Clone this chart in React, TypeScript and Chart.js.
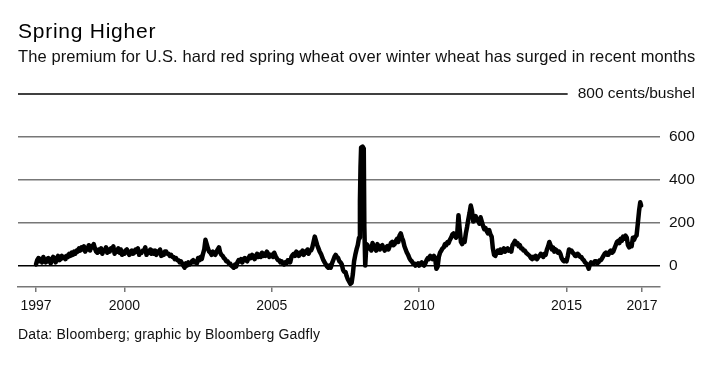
import React, { useEffect, useRef } from 'react';
import { Chart, registerables } from 'chart.js';

Chart.register(...registerables);

const FONT = '"Liberation Sans", Arial, Helvetica, sans-serif';

const titleText = 'Spring Higher';
const subtitleText = 'The premium for U.S. hard red spring wheat over winter wheat has surged in recent months';
const sourceText = 'Data: Bloomberg; graphic by Bloomberg Gadfly';

const yearTicks = [1997, 2000, 2005, 2010, 2015, 2017.56];
const yearTickLabels = ['1997', '2000', '2005', '2010', '2015', '2017'];
const yTicks = [0, 200, 400, 600, 800];
const unitLabel = 'cents/bushel';

// Semi-monthly premium readings (cents/bushel), two per month
const premium1997to2001 = [
  5, 25, 35, 20, 30, 15, 40, 25, 15, 30, 35, 20, 10, 30, 40, 25, 15, 35, 45, 25, 30, 45, 35, 40,
  30, 45, 40, 55, 45, 60, 50, 65, 55, 70, 65, 80, 70, 85, 75, 90, 65, 80, 75, 95, 70, 90, 85, 100,
  80, 65, 60, 75, 65, 80, 55, 70, 70, 85, 60, 75, 65, 80, 75, 90, 55, 70, 65, 80, 60, 75, 50, 65,
  55, 70, 75, 60, 50, 65, 70, 55, 60, 75, 65, 80, 50, 65, 60, 70, 70, 85, 50, 65, 60, 75, 55, 70,
  55, 70, 50, 65, 60, 75, 45, 60, 50, 65, 65, 55, 55, 45, 50, 40, 40, 30, 35, 25, 25, 15, 20, 10,
];

const premium2002to2006 = [
  0, -10, 10, 0, 15, 5, 10, 20, 25, 15, 20, 10, 35, 25, 40, 30, 55, 75, 120, 100, 80, 65, 60, 50,
  65, 55, 50, 65, 75, 85, 60, 50, 45, 35, 30, 20, 20, 10, 10, 0, -5, -10, 5, -5, 15, 25, 20, 30,
  15, 30, 35, 25, 20, 35, 45, 35, 50, 40, 30, 45, 55, 40, 50, 40, 60, 45, 55, 45, 65, 55, 40, 50,
  50, 40, 60, 45, 35, 25, 25, 15, 20, 10, 5, 15, 10, 25, 25, 15, 40, 50, 55, 45, 65, 55, 45, 60,
  55, 70, 50, 65, 60, 75, 55, 70, 70, 85, 110, 135, 115, 95, 80, 65, 55, 40, 25, 15, 5, -5, -10, 0,
];

// Jan 2007 .. start of Dec 2007
const premium2007 = [
  -10, 10, 25, 40, 50, 40, 35, 20, 15, 5, -20, -30, -30, -50, -65, -75, -85, -80, -40, 20, 50, 75, 95,
];

// Early-2008 spike
const spikeDates = [2007.96, 2007.99, 2008.01, 2008.03, 2008.08, 2008.12, 2008.14, 2008.17, 2008.21];
const spikeValues = [130, 300, 460, 550, 555, 545, 180, 0, 100];

// Apr 2008 .. Dec 2012, semi-monthly
const premium2008to2012 = [
  95, 80, 85, 70, 105, 90, 80, 70, 100, 85, 75, 90, 95, 80, 70, 85, 90, 75,
  90, 105, 110, 95, 100, 115, 125, 110, 140, 150, 130, 115, 90, 75, 60, 50, 35, 25, 20, 10, 10, 0, 5, 10,
  0, 10, 15, 5, 0, 10, 25, 35, 30, 45, 40, 30, 45, 35, -15, -5, 40, 60, 70, 80, 85, 100, 95, 110,
  105, 120, 130, 145, 150, 140, 130, 150, 235, 170, 110, 100, 120, 110, 150, 180, 215, 245, 280, 255, 205, 220, 230, 210,
  215, 195, 225, 205, 185, 170, 175, 160, 150, 165, 145, 135, 80, 50, 45, 60, 70, 60, 75, 60, 70, 80, 65, 75,
];

// Jan 2013 .. mid-May 2017, semi-monthly
const premium2013to2017 = [
  80, 70, 75, 65, 95, 105, 115, 100, 105, 90, 95, 80, 80, 70, 70, 60, 55, 50, 45, 35, 30, 40, 35, 45,
  30, 40, 45, 55, 50, 40, 55, 50, 75, 90, 110, 95, 75, 85, 65, 75, 70, 60, 65, 55, 35, 25, 20, 25,
  20, 45, 75, 65, 70, 60, 55, 45, 45, 55, 50, 40, 40, 30, 25, 15, 10, 0, -15, 5, 15, 10, 10, 20,
  20, 10, 15, 25, 25, 35, 45, 55, 60, 50, 50, 65, 70, 60, 65, 80, 95, 110, 115, 105, 125, 115, 135, 125,
  140, 130, 95, 85, 100, 90, 130, 120, 135, 140,
];

// Mid-2017 surge
const endDates = [2017.42, 2017.46, 2017.5, 2017.53];
const endValues = [200, 255, 295, 280];

function buildPoints() {
  const pts: { x: number; y: number }[] = [];
  const addSemi = (arr: number[], start: number) =>
    arr.forEach((v, i) => pts.push({ x: start + i / 24, y: v }));
  addSemi(premium1997to2001, 1997);
  addSemi(premium2002to2006, 2002);
  addSemi(premium2007, 2007);
  spikeDates.forEach((d, i) => pts.push({ x: d, y: spikeValues[i] }));
  addSemi(premium2008to2012, 2008.25);
  addSemi(premium2013to2017, 2013);
  endDates.forEach((d, i) => pts.push({ x: d, y: endValues[i] }));
  return pts;
}

const unitLinePlugin = {
  id: 'unitLine',
  afterDraw(chart: any) {
    const { ctx, chartArea, scales } = chart;
    const y = scales.y;
    const top = yTicks[yTicks.length - 1];
    const py = y.getPixelForValue(top);
    ctx.save();
    ctx.font = `15.5px ${FONT}`;
    const label = `${top} ${unitLabel}`;
    const right = chartArea.right + 9 + ctx.measureText('600').width;
    const w = ctx.measureText(label).width;
    ctx.fillStyle = '#111';
    ctx.textAlign = 'right';
    ctx.textBaseline = 'middle';
    ctx.fillText(label, right, py);
    ctx.strokeStyle = '#000';
    ctx.lineWidth = 1.5;
    ctx.beginPath();
    ctx.moveTo(chartArea.left, py);
    ctx.lineTo(right - w - 10, py);
    ctx.stroke();
    ctx.restore();
  },
};

export default function App() {
  const ref = useRef<HTMLCanvasElement | null>(null);

  useEffect(() => {
    if (!ref.current) return;
    const chart = new Chart(ref.current, {
      type: 'line',
      data: {
        datasets: [
          {
            data: buildPoints(),
            borderColor: '#000',
            borderWidth: 4.5,
            borderJoinStyle: 'round',
            borderCapStyle: 'round',
            pointRadius: 0,
            tension: 0,
            fill: false,
          },
        ],
      },
      options: {
        animation: false,
        responsive: false,
        maintainAspectRatio: false,
        layout: { padding: { left: 18, top: 94, right: 0, bottom: 52 } },
        plugins: { legend: { display: false }, tooltip: { enabled: false }, title: { display: false } },
        scales: {
          x: {
            type: 'linear',
            min: 1996.39,
            max: 2018.17,
            afterBuildTicks: (s: any) => {
              s.ticks = yearTicks.map((v) => ({ value: v }));
            },
            afterFit: (s: any) => {
              s.height = 30;
            },
            ticks: {
              autoSkip: false,
              maxRotation: 0,
              padding: 6,
              color: '#111',
              font: { family: FONT, size: 14 },
              callback: (_v: any, i: number) => yearTickLabels[i],
            },
            grid: { drawOnChartArea: false, drawTicks: true, tickLength: 5, color: '#777', lineWidth: 1.5 },
            border: { display: true, color: '#777', width: 1.5 },
          },
          y: {
            position: 'right',
            min: -100,
            max: 800,
            afterBuildTicks: (s: any) => {
              s.ticks = yTicks.map((v) => ({ value: v }));
            },
            afterFit: (s: any) => {
              s.width = 60;
            },
            ticks: {
              padding: 9,
              color: '#111',
              font: { family: FONT, size: 15.5 },
              callback: (v: any) => (v === 800 ? '' : String(v)),
            },
            grid: {
              drawTicks: false,
              lineWidth: 1.5,
              color: (ctx: any) => {
                const val = ctx.tick ? ctx.tick.value : null;
                if (val === 0) return '#000';
                if (val === 800) return 'rgba(0,0,0,0)';
                return '#777';
              },
            },
            border: { display: false },
          },
        },
      },
      plugins: [unitLinePlugin],
    } as any);
    return () => chart.destroy();
  }, []);

  const textBase: React.CSSProperties = {
    position: 'absolute',
    left: 18,
    margin: 0,
    whiteSpace: 'nowrap',
    fontFamily: FONT,
    color: '#111',
  };

  return (
    <div style={{ position: 'absolute', left: 0, top: 0, width: 720, height: 369, background: '#fff', overflow: 'hidden' }}>
      <canvas ref={ref} width={720} height={369} style={{ position: 'absolute', left: 0, top: 0, width: 720, height: 369 }} />
      <div style={{ ...textBase, top: 19.5, fontSize: 21, lineHeight: '21px', letterSpacing: 0.75, color: '#000' }}>{titleText}</div>
      <div style={{ ...textBase, top: 47.7, fontSize: 16.5, lineHeight: '16.5px', letterSpacing: 0.1 }}>{subtitleText}</div>
      <div style={{ ...textBase, top: 326.5, fontSize: 14, lineHeight: '14px', letterSpacing: 0.2 }}>{sourceText}</div>
    </div>
  );
}
